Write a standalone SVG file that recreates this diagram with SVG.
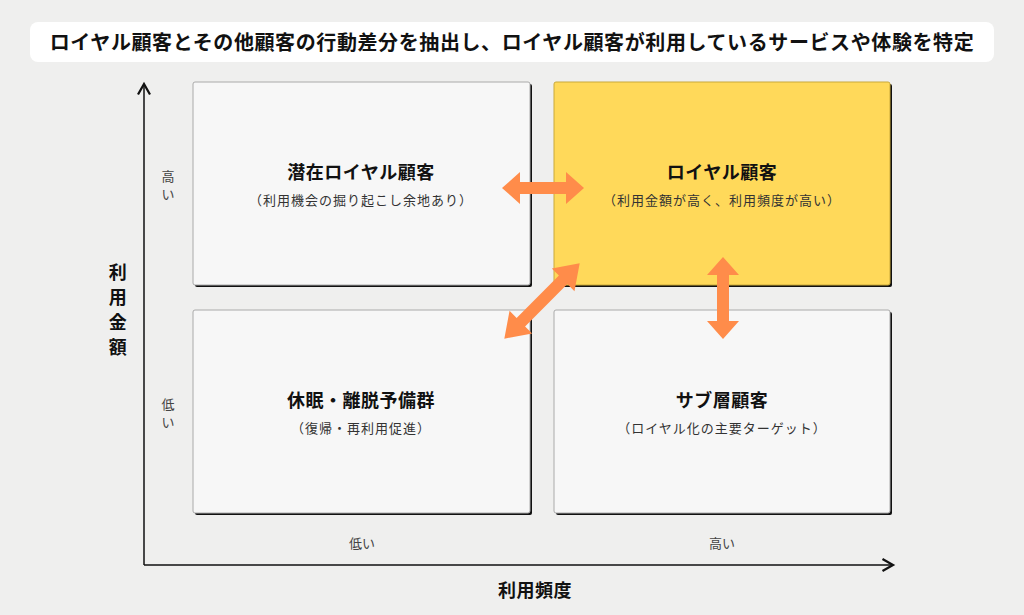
<svg xmlns="http://www.w3.org/2000/svg" width="1024" height="615" viewBox="0 0 1024 615">
<style>
text{font-family:"Noto Sans CJK JP","Noto Sans",sans-serif;fill:#111;text-anchor:middle}
.t{font-size:20px;font-weight:bold;letter-spacing:0.6px}
.h{font-size:18px;font-weight:bold;letter-spacing:0.5px}
.s{font-size:13px;fill:#333;letter-spacing:1px}
.a{font-size:13px;fill:#444}
.box{fill:#f7f7f7;stroke:#aaa;stroke-width:1}
.sh{fill:#111}
.arr{fill:#ff8c4a}
</style>
<defs>
<marker id="ah" markerWidth="10" markerHeight="10" refX="8" refY="5" orient="auto"><path d="M1,1 L8,5 L1,9" fill="none" stroke="#111" stroke-width="1.5"/></marker>
<path id="dbl" d="M-41,0 L-23,-16 L-23,-6 L23,-6 L23,-16 L41,0 L23,16 L23,6 L-23,6 L-23,16 Z"/>
</defs>
<rect width="1024" height="615" fill="#efefee"/>
<g id="title"><rect x="30" y="22" width="964" height="40" rx="8" fill="#fff"/><text class="t" x="512" y="50">ロイヤル顧客とその他顧客の行動差分を抽出し、ロイヤル顧客が利用しているサービスや体験を特定</text></g>
<g id="axes">
<line x1="144" y1="565" x2="144" y2="84" stroke="#111" stroke-width="1.5" marker-end="url(#ah)"/>
<line x1="144" y1="565" x2="893" y2="565" stroke="#111" stroke-width="1.5" marker-end="url(#ah)"/>
<text class="h" x="118" y="279">利</text><text class="h" x="118" y="304">用</text><text class="h" x="118" y="329">金</text><text class="h" x="118" y="354">額</text>
<text class="h" x="535" y="597">利用頻度</text>
<text class="a" x="168" y="181">高</text><text class="a" x="168" y="199">い</text>
<text class="a" x="168" y="409">低</text><text class="a" x="168" y="427">い</text>
<text class="a" x="362" y="548">低い</text><text class="a" x="722" y="548">高い</text>
</g>
<g id="n1"><rect class="sh" x="195" y="84" width="337" height="203" rx="2"/><rect class="box" x="193" y="82" width="337" height="203" rx="2"/>
<text class="h" x="361" y="179">潜在ロイヤル顧客</text><text class="s" x="361" y="205">（利用機会の掘り起こし余地あり）</text></g>
<g id="n2"><rect class="sh" x="556" y="84" width="336" height="203" rx="2"/><rect x="554" y="82" width="336" height="203" rx="2" fill="#ffd95a" stroke="#c9a93a"/>
<text class="h" x="722" y="179">ロイヤル顧客</text><text class="s" x="722" y="205">（利用金額が高く、利用頻度が高い）</text></g>
<g id="n3"><rect class="sh" x="195" y="312" width="337" height="203" rx="2"/><rect class="box" x="193" y="310" width="337" height="203" rx="2"/>
<text class="h" x="361" y="407">休眠・離脱予備群</text><text class="s" x="361" y="433">（復帰・再利用促進）</text></g>
<g id="n4"><rect class="sh" x="556" y="312" width="336" height="203" rx="2"/><rect class="box" x="554" y="310" width="336" height="203" rx="2"/>
<text class="h" x="722" y="407">サブ層顧客</text><text class="s" x="722" y="433">（ロイヤル化の主要ターゲット）</text></g>
<g id="connectors">
<use href="#dbl" class="arr" transform="translate(543,188)"/>
<use href="#dbl" class="arr" transform="translate(542,301) rotate(-45) scale(1.3,1)"/>
<use href="#dbl" class="arr" transform="translate(723,298) rotate(90)"/>
</g>
</svg>
